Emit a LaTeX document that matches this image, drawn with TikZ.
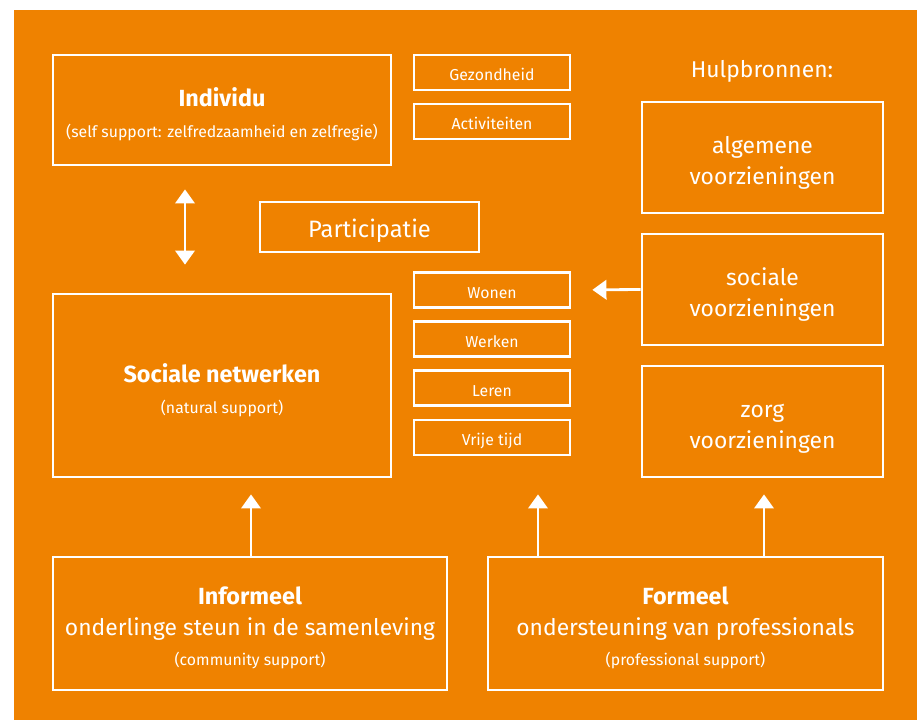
\documentclass[tikz,border=0pt]{standalone}
\usepackage{fontspec}
\setmainfont{Fira Sans}
\usetikzlibrary{arrows.meta}
\definecolor{oranje}{HTML}{EF8200}
\tikzset{
    box/.style={draw=white, line width=1.6pt, inner sep=0pt},
    tab/.style={box, minimum width=3.12cm, minimum height=0.7cm, text=white,
        text height=9.6pt, text depth=0pt, font=\fontsize{9}{11}\selectfont},
    txt/.style={text=white, inner sep=0pt, anchor=base},
    kop/.style={txt, font=\fontsize{13.3}{16}\selectfont\bfseries},
    sub/.style={txt, font=\fontsize{9}{11}\selectfont},
    regel/.style={txt, font=\fontsize{13}{16}\selectfont},
    pijl/.style={draw=white, line width=1.6pt, -{Triangle[width=11pt,length=8pt]}},
}
\begin{document}
\begin{tikzpicture}[x=0.02cm, y=-0.02cm]
    \useasboundingbox (0,0) rectangle (917,720);
    \fill[oranje] (14,10) rectangle (917,720);
    % linker kolom
    \node[box, minimum width=6.76cm, minimum height=2.2cm] (individu) at (222,110) {};
    \node[kop] (individu-kop) at (222,106) {Individu};
    \node[sub] (individu-sub) at (222,137) {(self support: zelfredzaamheid en zelfregie)};
    \node[box, minimum width=6.76cm, minimum height=3.66cm] (netwerken) at (222,385.5) {};
    \node[kop] (netwerken-kop) at (222,382) {Sociale netwerken};
    \node[sub] (netwerken-sub) at (222,413) {(natural support)};
    \node[box, minimum width=4.38cm, minimum height=1.0cm, text=white,
        text height=11.8pt, text depth=0pt, font=\fontsize{13.5}{16}\selectfont] (participatie) at (369.5,227) {Participatie};
    % domeinen
    \node[tab] (gezondheid) at (492,72.5) {Gezondheid};
    \node[tab] (activiteiten) at (492,121.5) {Activiteiten};
    \foreach \naam/\tekst/\y in {wonen/Wonen/290, werken/Werken/339, leren/Leren/388, vrijetijd/Vrije tijd/437.5}
        \node[tab] (\naam) at (492,\y) {\tekst};
    % hulpbronnen
    \node[regel] (hulpbronnen) at (762,77) {Hulpbronnen:};
    \foreach \naam/\tekst/\y in {algemeen/algemene/157.5, sociaal/sociale/289.5, zorg/zorg/421.5} {
        \node[box, minimum width=4.82cm, minimum height=2.22cm] (\naam) at (762.5,\y) {};
        \node[regel] (\naam-1) at (762.5,\y-4.5) {\tekst};
        \node[regel] (\naam-2) at (762.5,\y+26.5) {voorzieningen};
    }
    % onderste rij
    \node[box, minimum width=7.88cm, minimum height=2.66cm] (informeel) at (250,623.5) {};
    \node[kop] (informeel-kop) at (250,604) {Informeel};
    \node[regel] (informeel-regel) at (250,635) {onderlinge steun in de samenleving};
    \node[sub] (informeel-sub) at (250,665) {(community support)};
    \node[box, minimum width=7.9cm, minimum height=2.66cm] (formeel) at (685.5,623.5) {};
    \node[kop] (formeel-kop) at (685.5,604) {Formeel};
    \node[regel] (formeel-regel) at (685.5,635) {ondersteuning van professionals};
    \node[sub] (formeel-sub) at (685.5,665) {(professional support)};
    % pijlen
    \draw[pijl, {Triangle[width=11pt,length=8pt]}-{Triangle[width=11pt,length=8pt]}, shorten <=0.46cm, shorten >=0.56cm]
        (individu.south -| 185,0) -- (netwerken.north -| 185,0);
    \draw[pijl, shorten >=0.42cm] (sociaal.west) -- (wonen.east);
    \draw[pijl, shorten >=0.32cm] (informeel.north -| 251,0) -- (netwerken.south -| 251,0);
    \draw[pijl, shorten >=0.76cm] (formeel.north -| 538,0) -- (vrijetijd.south -| 538,0);
    \draw[pijl, shorten >=0.32cm] (formeel.north -| 764,0) -- (zorg.south -| 764,0);
\end{tikzpicture}
\end{document}
